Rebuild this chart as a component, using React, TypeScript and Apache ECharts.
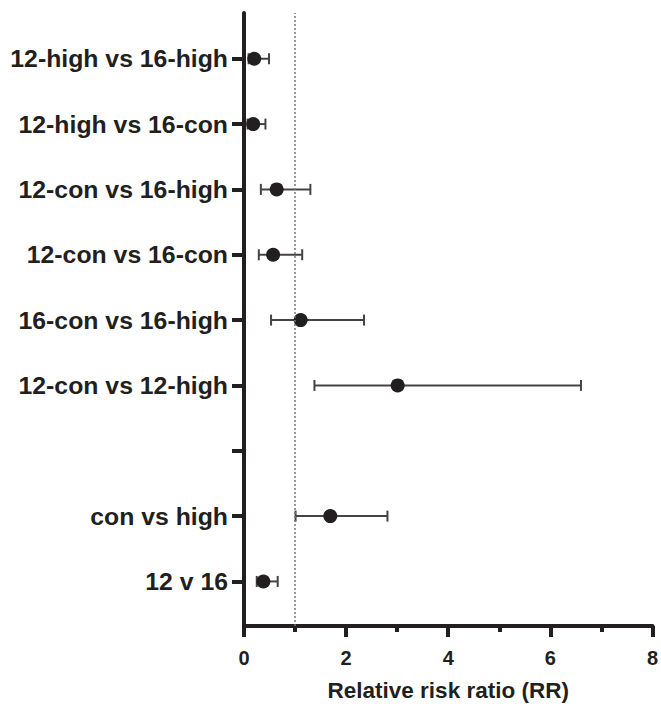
import React, { useEffect, useRef } from "react";
import * as echarts from "echarts";

// Rows listed from top to bottom ("" = empty gap row)
const categories = [
  "12-high vs 16-high",
  "12-high vs 16-con",
  "12-con vs 16-high",
  "12-con vs 16-con",
  "16-con vs 16-high",
  "12-con vs 12-high",
  "",
  "con vs high",
  "12 v 16",
];
const rr: (number | null)[] = [0.2, 0.18, 0.64, 0.57, 1.11, 3.01, null, 1.69, 0.38];
const lower: (number | null)[] = [0.09, 0.07, 0.33, 0.29, 0.53, 1.38, null, 1.01, 0.25];
const upper: (number | null)[] = [0.49, 0.42, 1.3, 1.14, 2.35, 6.6, null, 2.81, 0.66];
const xTicks = [0, 2, 4, 6, 8];
const refLine = 1;

const n = categories.length;
const posOf = (i: number) => n - i; // top row -> n, bottom row -> 1
const tickPositions = categories.map((_, i) => posOf(i));

const INK = "#231f20";
const FONT = "'Liberation Sans', Arial, Helvetica, sans-serif";

export default function App() {
  const ref = useRef<HTMLDivElement>(null);
  useEffect(() => {
    if (!ref.current) return;
    const chart = echarts.init(ref.current, undefined, { renderer: "svg" });
    const pts: number[][] = [];
    const bars: number[][] = [];
    categories.forEach((_, i) => {
      const v = rr[i];
      const lo = lower[i];
      const hi = upper[i];
      if (v != null) pts.push([v, posOf(i)]);
      if (lo != null && hi != null) bars.push([lo, hi, posOf(i)]);
    });
    chart.setOption({
      animation: false,
      grid: { left: 244, right: 4.5, top: 13, bottom: 75, containLabel: false },
      xAxis: {
        type: "value",
        min: xTicks[0],
        max: xTicks[xTicks.length - 1],
        interval: 2,
        splitLine: { show: false },
        axisLine: { show: true, onZero: false, lineStyle: { color: INK, width: 4 } },
        axisTick: { show: true, length: 11, lineStyle: { color: INK, width: 4 } },
        minorTick: { show: true, splitNumber: 2, length: 6, lineStyle: { color: INK, width: 4 } },
        axisLabel: {
          margin: 22,
          color: INK,
          fontFamily: FONT,
          fontWeight: "bold",
          fontSize: 20,
        },
        name: "Relative risk ratio (RR)",
        nameLocation: "middle",
        nameGap: 53,
        nameTextStyle: { color: INK, fontFamily: FONT, fontWeight: "bold", fontSize: 22.5 },
      },
      yAxis: {
        type: "value",
        min: 0.318,
        max: 9.7,
        splitLine: { show: false },
        axisLine: { show: true, onZero: false, lineStyle: { color: INK, width: 4 } },
        axisTick: {
          show: true,
          length: 12,
          customValues: tickPositions,
          lineStyle: { color: INK, width: 4 },
        },
        axisLabel: {
          customValues: tickPositions,
          margin: 16,
          color: INK,
          fontFamily: FONT,
          fontWeight: "bold",
          fontSize: 24.8,
          formatter: (v: number) => {
            const i = n - Math.round(v);
            return categories[i] ?? "";
          },
        },
      },
      series: [
        {
          type: "custom",
          silent: true,
          data: bars,
          z: 2,
          renderItem: (params: any, api: any) => {
            const lo = api.value(0);
            const hi = api.value(1);
            const y = api.value(2);
            const a = api.coord([lo, y]);
            const b = api.coord([hi, y]);
            const cap = 5.5;
            const style = { stroke: "#444444", lineWidth: 2 };
            return {
              type: "group",
              children: [
                { type: "line", shape: { x1: a[0], y1: a[1], x2: b[0], y2: b[1] }, style },
                { type: "line", shape: { x1: a[0], y1: a[1] - cap, x2: a[0], y2: a[1] + cap }, style },
                { type: "line", shape: { x1: b[0], y1: b[1] - cap, x2: b[0], y2: b[1] + cap }, style },
              ],
            };
          },
        },
        {
          type: "scatter",
          data: pts,
          symbol: "circle",
          symbolSize: 14,
          z: 3,
          itemStyle: { color: INK, opacity: 1 },
          markLine: {
            silent: true,
            symbol: "none",
            label: { show: false },
            lineStyle: { color: "#777777", type: [2, 2], width: 1.5 },
            data: [{ xAxis: refLine }],
          },
        },
      ],
    });
    return () => chart.dispose();
  }, []);
  return (
    <div
      ref={ref}
      style={{ position: "fixed", left: 0, top: 0, width: 661, height: 707, background: "#fff" }}
    />
  );
}
